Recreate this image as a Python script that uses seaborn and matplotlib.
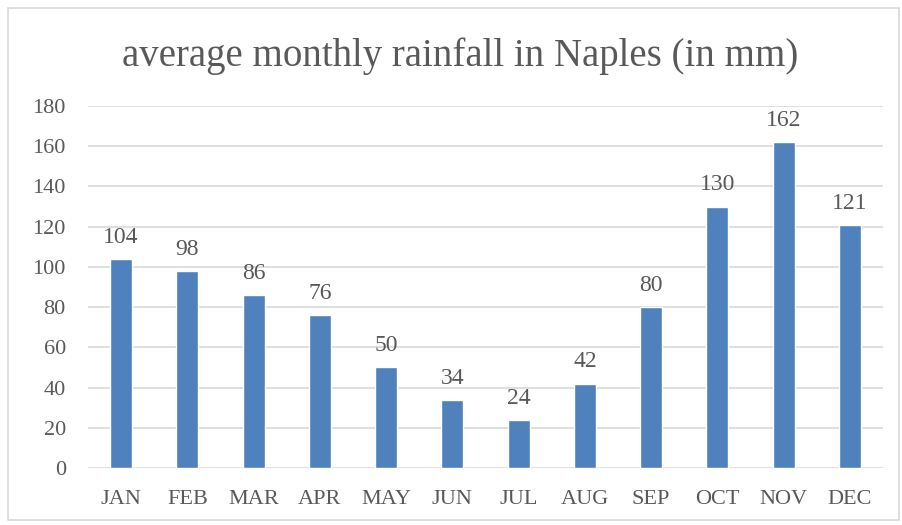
import pandas as pd
import matplotlib
matplotlib.use('Agg')
import matplotlib.pyplot as plt
import seaborn as sns
from matplotlib.patches import Rectangle

months = ['JAN', 'FEB', 'MAR', 'APR', 'MAY', 'JUN', 'JUL', 'AUG', 'SEP', 'OCT', 'NOV', 'DEC']
rainfall = [104, 98, 86, 76, 50, 34, 24, 42, 80, 130, 162, 121]
yticks = [0, 20, 40, 60, 80, 100, 120, 140, 160, 180]

df = pd.DataFrame({'month': months, 'rain': rainfall})

sns.set_style('white')
plt.rcParams['font.family'] = ['Liberation Serif', 'DejaVu Serif']

text_col = '#595959'
fig = plt.figure(figsize=(9.02, 5.25), dpi=100)
ax = fig.add_axes([0.0976, 0.1086, 0.8814, 0.6894])

sns.barplot(data=df, x='month', y='rain', color='#4F81BD', saturation=1,
            width=0.33, ax=ax, zorder=3)

ax.set_ylim(0, 180)
ax.set_xlim(-0.5, len(months) - 0.5)
ax.set_yticks(yticks)
ax.yaxis.grid(True, color='#D9D9D9', linewidth=1.2, zorder=0)
ax.set_axisbelow(True)
for s in ax.spines.values():
    s.set_visible(False)
ax.set_xlabel('')
ax.set_ylabel('')
ax.tick_params(axis='both', length=0, labelsize=16, colors=text_col)
ax.tick_params(axis='y', pad=16)
ax.tick_params(axis='x', pad=16)

for c in ax.containers:
    ax.bar_label(c, padding=8, fontsize=17, color=text_col)

fig.text(0.51, 0.893, 'average monthly rainfall in Naples (in mm)',
         ha='center', va='center', fontsize=28, color=text_col)

fig.patches.append(Rectangle((0.009, 0.009), 0.988, 0.975, transform=fig.transFigure,
                             fill=False, edgecolor='#D9D9D9', linewidth=1.2))

fig.savefig('out.png', dpi=100)
